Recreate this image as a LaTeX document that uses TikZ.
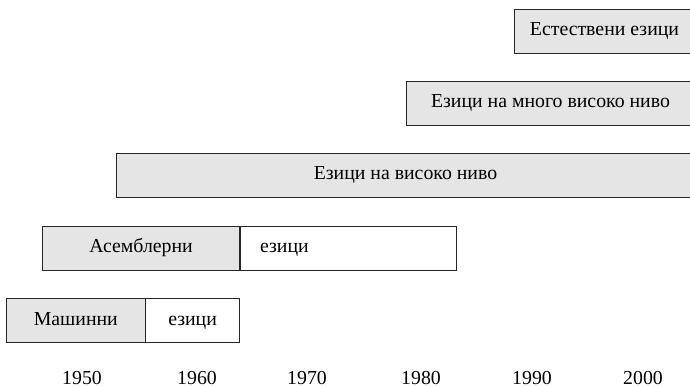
\documentclass[tikz,border=0pt]{standalone}
\usepackage{fontspec}
\setmainfont{Liberation Serif}
\usetikzlibrary{positioning}

\tikzset{
    era/.style = {draw = black!85, line width = 0.8pt, fill = black!10, minimum height = 44pt, inner sep = 0pt, text height = 13.5pt, text depth = 4.5pt, font = \fontsize{19.8}{23}\selectfont},
    erarest/.style = {era, fill = white},
    year/.style = {anchor = base, font = \fontsize{19.8}{23}\selectfont}
}

\begin{document}
\begin{tikzpicture}[x = 1pt, y = -1pt]
            \useasboundingbox (0, 0) rectangle (690, 387);
            \clip (0, 0) rectangle (690, 387);
            
            \node[era, minimum width = 181pt] (natural) at (604.5, 31) {Естествени езици};
            \node[era, minimum width = 289pt] (veryhigh) at (550.5, 103) {Езици на много високо ниво};
            \node[era, minimum width = 579pt] (high) at (405.5, 175) {Езици на високо ниво};
            
            \node[era, minimum width = 196.6pt] (assembly) at (141, 248.2) {Асемблерни};
            \node[erarest, right = 0pt of assembly, text width = 176.7pt, inner xsep = 20pt, align = left] (assemblyrest) {езици};
            
            \node[era, minimum width = 138.3pt, minimum height = 44.4pt] (machine) at (75.8, 320.5) {Машинни};
            \node[erarest, right = 0pt of machine, minimum width = 93.7pt, minimum height = 44.4pt] (machinerest) {езици};
            
            \foreach \yr/\xx in {1950/82, 1960/197, 1970/307, 1980/421, 1990/532, 2000/643}
                \node[year] (y\yr) at (\xx, 384) {\yr};
        \end{tikzpicture}
\end{document}
